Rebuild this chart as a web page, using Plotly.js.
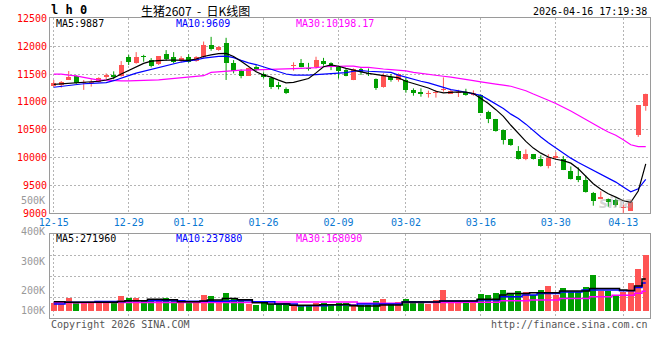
<!DOCTYPE html>
<html><head><meta charset="utf-8">
<script src="https://cdn.plot.ly/plotly-3.0.1.min.js"></script>
<style>html,body{margin:0;padding:0;background:#fff;overflow:hidden}#chart{width:660px;height:360px}</style>
</head><body><div id="chart"></div>
<script>
// ---------------- data ----------------
const dates = ['12-15','12-16','12-17','12-18','12-19','12-22','12-23','12-24','12-25','12-26',
 '12-29','12-30','12-31','01-05','01-06','01-07','01-08','01-09',
 '01-12','01-13','01-14','01-15','01-16','01-19','01-20','01-21','01-22','01-23',
 '01-26','01-27','01-28','01-29','01-30','02-02','02-03','02-04','02-05','02-06',
 '02-09','02-10','02-11','02-12','02-13','02-24','02-25','02-26','02-27',
 '03-02','03-03','03-04','03-05','03-06','03-09','03-10','03-11','03-12','03-13',
 '03-16','03-17','03-18','03-19','03-20','03-23','03-24','03-25','03-26','03-27',
 '03-30','03-31','04-01','04-02','04-03','04-07','04-08','04-09','04-10',
 '04-13','04-14','04-15','04-16'];
const openP  = [11292,11304,11393,11464,11334,11334,11363,11441,11488,11464,
 11804,11697,11827,11750,11673,11857,11804,11726,11798,11738,
 11798,12018,11935,12054,11702,11560,11464,11625,11505,11420,
 11300,11230,11645,11700,11615,11620,11740,11690,11620,11570,
 11390,11590,11525,11405,11261,11440,11392,11392,11213,11171,
 11147,11153,11207,11147,11159,11176,11117,11117,10823,10688,
 10500,10335,10118,9971,10059,9971,9841,9988,9982,9765,
 9665,9606,9371,9265,9248,9236,9089,9041,10412,10924];
const highP  = [11393,11375,11554,11476,11393,11405,11441,11512,11548,11732,
 11845,11893,11845,11786,11821,11929,11893,11821,11857,11821,
 12083,12167,12000,12150,11750,11583,11613,11660,11530,11450,
 11360,11260,11710,11770,11700,11810,11790,11710,11650,11590,
 11600,11620,11600,11420,11512,11500,11512,11434,11243,11243,
 11201,11213,11440,11217,11217,11235,11206,11130,10841,10694,
 10500,10340,10206,10147,10065,10041,10059,10100,10029,9841,
 9824,9677,9383,9395,9265,9265,9159,9236,10941,11147];
const lowP   = [11274,11256,11393,11322,11215,11274,11352,11405,11405,11453,
 11661,11685,11720,11619,11661,11738,11691,11714,11702,11720,
 11780,11917,11917,11393,11512,11423,11464,11545,11420,11230,
 11225,11140,11560,11620,11560,11600,11650,11570,11420,11460,
 11390,11482,11465,11215,11255,11362,11362,11165,11111,11093,
 11076,11076,11183,11147,11088,11110,11110,10800,10618,10465,
 10235,10210,9965,9953,9965,9835,9806,9971,9776,9606,
 9559,9371,9136,9253,9118,9118,9000,9041,10371,10841];
const closeP = [11334,11357,11453,11334,11352,11363,11423,11488,11453,11661,
 11720,11804,11798,11649,11821,11768,11720,11786,11720,11798,
 12018,11946,11982,11702,11560,11464,11601,11575,11450,11275,
 11275,11165,11670,11630,11595,11750,11680,11620,11560,11470,
 11585,11530,11500,11255,11482,11395,11500,11213,11153,11141,
 11165,11177,11225,11194,11176,11117,11164,10806,10688,10471,
 10324,10218,9971,10059,9971,9841,9988,10029,9782,9618,
 9606,9383,9218,9295,9195,9148,9107,9206,10941,11135];
const ma5  = [11315,11325,11332,11340,11345,11355,11370,11393,11430,11500,
 11565,11625,11690,11730,11742,11749,11750,11748,11745,11770,
 11815,11845,11865,11870,11815,11730,11630,11540,11480,11445,
 11390,11340,11350,11380,11420,11520,11630,11665,11640,11600,
 11565,11540,11510,11490,11470,11460,11430,11370,11330,11290,
 11250,11190,11160,11170,11180,11175,11150,11060,10970,10860,
 10740,10580,10440,10290,10170,10080,10010,9970,9945,9900,
 9800,9660,9530,9430,9350,9290,9225,9195,9400,9887];
const ma10 = [11262,11280,11300,11315,11325,11332,11336,11345,11380,11420,
 11470,11515,11548,11575,11610,11650,11685,11715,11735,11752,
 11785,11805,11815,11820,11795,11745,11700,11670,11630,11590,
 11545,11500,11480,11478,11480,11490,11500,11505,11515,11525,
 11550,11560,11550,11545,11540,11530,11480,11440,11400,11370,
 11340,11300,11260,11220,11200,11176,11150,11117,11040,10960,
 10880,10780,10700,10600,10480,10370,10265,10170,10075,9990,
 9910,9840,9760,9700,9630,9560,9470,9385,9440,9609];
const ma30 = [11498,11498,11480,11468,11440,11420,11390,11390,11380,11378,
 11378,11378,11385,11390,11395,11408,11420,11432,11440,11450,
 11470,11528,11540,11555,11565,11570,11570,11572,11575,11580,
 11588,11590,11595,11600,11605,11615,11630,11638,11641,11641,
 11641,11620,11618,11600,11590,11580,11570,11555,11530,11510,
 11490,11476,11460,11445,11420,11395,11380,11360,11345,11320,
 11300,11280,11240,11200,11140,11090,11030,10970,10910,10835,
 10760,10680,10600,10530,10460,10400,10320,10230,10198,10198];
const volume = [65000,62000,110000,65000,65000,65000,65000,76000,76000,129000,
 110000,110000,93000,87000,87000,110000,93000,65000,65000,76000,
 135000,127000,76000,152000,99000,87000,59000,51000,70000,59000,
 59000,65000,59000,48000,48000,70000,70000,59000,65000,65000,
 59000,51000,51000,85000,102000,59000,76000,102000,85000,85000,
 59000,93000,178000,85000,85000,85000,85000,144000,135000,155000,
 178000,155000,169000,161000,133000,178000,212000,135000,195000,163000,
 163000,203000,305000,172000,172000,133000,161000,239000,355000,474000];
const vma5  = [79000,79000,74000,74000,74000,74000,74000,74000,74000,80000,
 87000,87000,87000,99000,99000,95000,95000,79000,79000,79000,
 85000,93000,93000,107000,107000,95000,95000,70000,70000,59000,
 59000,59000,48000,48000,48000,48000,52000,52000,52000,55000,
 45000,42000,42000,42000,51000,51000,51000,76000,76000,76000,
 76000,76000,85000,85000,85000,85000,85000,99000,99000,99000,
 135000,149000,149000,149000,155000,155000,155000,155000,169000,169000,
 169000,169000,192000,192000,192000,192000,178000,175000,212000,271960];
const vma10 = [59000,59000,74000,74000,74000,74000,80000,80000,80000,80000,
 87000,87000,87000,87000,87000,87000,87000,87000,82000,82000,
 82000,82000,82000,82000,87000,87000,87000,79000,79000,79000,
 59000,59000,59000,45000,45000,45000,45000,54000,54000,54000,
 48000,59000,59000,59000,59000,59000,59000,76000,76000,76000,
 76000,76000,85000,85000,85000,85000,85000,93000,93000,93000,
 121000,121000,121000,135000,135000,149000,149000,149000,161000,161000,
 161000,178000,178000,178000,178000,178000,172000,172000,200000,237880];
const vma30 = [70000,70000,70000,70000,70000,73000,73000,73000,73000,73000,
 73000,73000,73000,73000,73000,73000,73000,73000,73000,73000,
 73000,73000,73000,73000,73000,73000,73000,76000,76000,76000,
 76000,76000,76000,76000,76000,76000,76000,76000,76000,76000,
 76000,65000,65000,65000,65000,65000,65000,73000,73000,73000,
 73000,73000,73000,73000,73000,75000,75000,75000,75000,75000,
 87000,87000,87000,87000,93000,93000,93000,93000,107000,107000,
 107000,107000,121000,121000,121000,133000,133000,133000,150000,168090];
const tickDates = ['12-15','12-29','01-12','01-26','02-09','03-02','03-16','03-30','04-13'];
const priceTicks = [9000,9500,10000,10500,11000,11500,12000,12500];
const volAxisLabels = ['500K','400K','300K','200K','100K'];
const priceLegend = ['MA5:9887','MA10:9609','MA30:10198.17'];
const volLegend = ['MA5:271960','MA10:237880','MA30:168090'];
const headerCode = 'l h 0';
const headerTitle = '生猪2607\u00a0\u00a0-\u00a0\u00a0日K线图';
const headerTime = '2026-04-16 17:19:38';
const footerLeft = 'Copyright 2026 SINA.COM';
const footerRight = 'http://finance.sina.com.cn';

// ---------------- drawing ----------------
const W = 660, H = 360;
const RED = '#ff5454', GREEN = '#009f00', GRID = '#b4b4b4', FRAME = '#9a9a9a';
const MONO = 'DejaVu Sans Mono';
const X = (px) => px / W, Y = (py) => 1 - py / H;
const idx = dates.map((d, i) => i);
const up = closeP.map((c, i) => c >= openP[i]);
const colors = up.map(u => u ? RED : GREEN);
const tickvals = tickDates.map(d => dates.indexOf(d));

const wick = (flag) => {
  const xs = [], ys = [];
  idx.forEach(i => { if (up[i] === flag) { xs.push(i, i, null); ys.push(lowP[i], highP[i], null); } });
  return {type:'scatter', mode:'lines', x:xs, y:ys, xaxis:'x', yaxis:'y',
          line:{color: flag ? RED : GREEN, width:1}, hoverinfo:'skip'};
};

const traces = [
  wick(true), wick(false),
  {type:'bar', x:idx, base:idx.map(i => Math.min(openP[i], closeP[i])),
   y:idx.map(i => Math.max(Math.abs(closeP[i] - openP[i]), 16)),
   width:0.66, marker:{color:colors, line:{width:0}}, xaxis:'x', yaxis:'y'},
  {type:'scatter', mode:'lines', x:idx, y:ma30, line:{color:'#ff00ff', width:1.2}, xaxis:'x', yaxis:'y'},
  {type:'scatter', mode:'lines', x:idx, y:ma10, line:{color:'#0000ff', width:1.2}, xaxis:'x', yaxis:'y'},
  {type:'scatter', mode:'lines', x:idx, y:ma5, line:{color:'#000000', width:1.2}, xaxis:'x', yaxis:'y'},
  {type:'bar', x:idx, y:volume, width:0.8, marker:{color:colors, line:{width:0}}, xaxis:'x2', yaxis:'y2'},
  {type:'scatter', mode:'lines', x:idx, y:vma30, line:{color:'#ff00ff', width:1.5, shape:'hvh'}, xaxis:'x2', yaxis:'y2'},
  {type:'scatter', mode:'lines', x:idx, y:vma10, line:{color:'#0000ff', width:1.5, shape:'hvh'}, xaxis:'x2', yaxis:'y2'},
  {type:'scatter', mode:'lines', x:idx, y:vma5, line:{color:'#000000', width:1.5, shape:'hvh'}, xaxis:'x2', yaxis:'y2'}
];

const vRange = [-62000, 651000];
const vGrid = [1,2,3].map(k => vRange[0] + k * (vRange[1] - vRange[0]) / 4);
const xDom = [X(50), X(649.5)];
const axCommon = {showgrid:true, gridcolor:GRID, griddash:'2px,2px', gridwidth:1,
  showline:true, mirror:true, linecolor:FRAME, linewidth:1, zeroline:false, ticks:'', fixedrange:true};

const ann = [];
const txt = (text, px, py, anchor, color, size, family) => ann.push({
  text, x:X(px), y:Y(py), xref:'paper', yref:'paper', xanchor:anchor, yanchor:'middle',
  showarrow:false, font:{family:family || MONO, size:size || 10, color:color || '#000'}});

txt('<b>' + headerCode + '</b>', 49, 10, 'left', '#000', 12);
txt(headerTitle, 139, 10, 'left', '#000', 12, 'Noto Sans CJK SC');
txt(headerTime, 649, 11, 'right', '#000', 10);
const legX = [54, 174, 294], legC = ['#000000', '#0000ff', '#ff00ff'];
priceLegend.forEach((t, k) => txt(t, legX[k], 24, 'left', legC[k], 10));
volLegend.forEach((t, k) => txt(t, legX[k], 238, 'left', legC[k], 10));
const volLabelY = [200, 231, 261, 290, 310];
volAxisLabels.forEach((t, k) => txt(t, 47, volLabelY[k], 'right', '#999999', 10));
txt(footerLeft, 49, 324, 'left', '#555555', 10);
txt(footerRight, 650, 324, 'right', '#555555', 10);
ann.push({text:'<b><i>sina</i></b>', x:X(636), y:Y(203), xref:'paper', yref:'paper',
  showarrow:false, font:{family:'DejaVu Sans', size:15, color:'rgba(160,160,160,0.45)'}});

const layout = {
  width:W, height:H, margin:{l:0, r:0, t:0, b:0},
  paper_bgcolor:'#ffffff', plot_bgcolor:'#ffffff', showlegend:false, bargap:0,
  xaxis: Object.assign({}, axCommon, {domain:xDom, anchor:'y', range:[-0.5, 79.5],
    tickmode:'array', tickvals:tickvals, ticktext:tickDates,
    tickfont:{family:MONO, size:10, color:'#0a78d2'}}),
  yaxis: Object.assign({}, axCommon, {domain:[Y(213.3), Y(18.3)], anchor:'x', range:[9000, 12500],
    tickmode:'array', tickvals:priceTicks, ticktext:priceTicks.map(String),
    tickfont:{family:MONO, size:10, color:'#ff0000'}}),
  xaxis2: Object.assign({}, axCommon, {domain:xDom, anchor:'y2', range:[-0.5, 79.5],
    tickmode:'array', tickvals:tickvals, showticklabels:false}),
  yaxis2: Object.assign({}, axCommon, {domain:[Y(318.3), Y(234.3)], anchor:'x2', range:vRange,
    tickmode:'array', tickvals:vGrid, showticklabels:false}),
  annotations: ann
};

Plotly.newPlot('chart', traces, layout, {staticPlot:true, displayModeBar:false});
</script></body></html>
